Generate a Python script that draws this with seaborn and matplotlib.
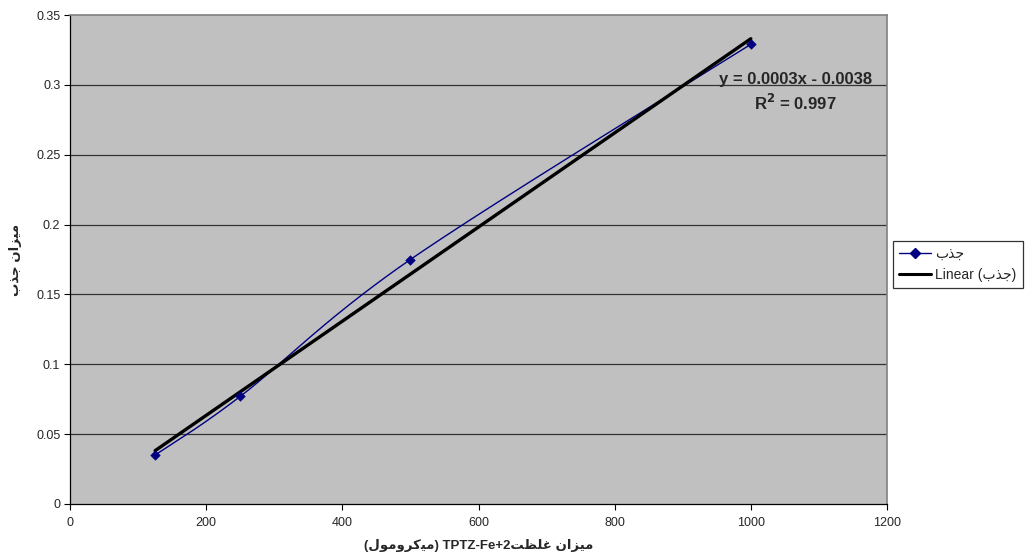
import numpy as np
import pandas as pd
import matplotlib
matplotlib.use("Agg")
import matplotlib.pyplot as plt
from matplotlib.lines import Line2D
import seaborn as sns

# ---- data ----
conc = [125, 250, 500, 1000]
absorb = [0.035, 0.077, 0.175, 0.329]
x_ticks = [0, 200, 400, 600, 800, 1000, 1200]
y_ticks = [0, 0.05, 0.1, 0.15, 0.2, 0.25, 0.3, 0.35]
y_tick_labels = ["0", "0.05", "0.1", "0.15", "0.2", "0.25", "0.3", "0.35"]

# Persian words in visual (presentation-form) order
w_jazb = "\uFE8F\uFEAC\uFE9F"                       # جذب
w_mizan = "\uFEE5\uFE8D\uFEB0\uFEF4\uFEE3"          # میزان
w_ghelzat = "\uFE96\uFEC8\uFEE0\uFECF"              # غلظت
w_micromol = "\uFEDD\uFEEE\uFEE3\uFEED\uFEAE\uFB90\uFEF4\uFEE3"  # میکرومول

xlabel = "(" + w_micromol + ") TPTZ-Fe+2" + w_ghelzat + " " + w_mizan
ylabel = w_jazb + " " + w_mizan
legend_series = w_jazb
legend_trend = "Linear (" + w_jazb + ")"

sns.set_theme(style="white")
FAM = ["Liberation Sans", "DejaVu Sans"]
plt.rcParams["font.family"] = FAM

fig = plt.figure(figsize=(10.29, 5.58), dpi=100)
ax = fig.add_axes([70 / 1029, 1 - 504 / 558, 817 / 1029, 489 / 558])
ax.set_facecolor("#C0C0C0")

# smoothed curve (Catmull-Rom Bezier like Excel)
px = np.array(conc, float)
py = np.array(absorb, float)
sx, sy = [], []
n = len(px)
for i in range(n - 1):
    p0 = (px[max(i - 1, 0)], py[max(i - 1, 0)])
    p1 = (px[i], py[i])
    p2 = (px[i + 1], py[i + 1])
    p3 = (px[min(i + 2, n - 1)], py[min(i + 2, n - 1)])
    c1 = (p1[0] + (p2[0] - p0[0]) / 6, p1[1] + (p2[1] - p0[1]) / 6)
    c2 = (p2[0] - (p3[0] - p1[0]) / 6, p2[1] - (p3[1] - p1[1]) / 6)
    t = np.linspace(0, 1, 60)
    bx = (1 - t) ** 3 * p1[0] + 3 * (1 - t) ** 2 * t * c1[0] + 3 * (1 - t) * t ** 2 * c2[0] + t ** 3 * p2[0]
    by = (1 - t) ** 3 * p1[1] + 3 * (1 - t) ** 2 * t * c1[1] + 3 * (1 - t) * t ** 2 * c2[1] + t ** 3 * p2[1]
    sx.extend(bx)
    sy.extend(by)
curve = pd.DataFrame({"x": sx, "y": sy, "order": np.arange(len(sx))})

slope, intercept = np.polyfit(px, py, 1)
trend = pd.DataFrame({"x": [px.min(), px.max()]})
trend["y"] = slope * trend["x"] + intercept

# gridlines
for yt in y_ticks[1:-1]:
    ax.axhline(yt, color="#333333", lw=0.9, zorder=1)

sns.lineplot(data=curve, x="x", y="y", sort=False, estimator=None, ax=ax,
             color="#000080", lw=1.0, zorder=3)
sns.lineplot(data=trend, x="x", y="y", ax=ax, color="black", lw=2.4, zorder=4)
sns.scatterplot(x=conc, y=absorb, ax=ax, marker="D", s=24, color="#000080",
                edgecolor="#000080", zorder=5)

ax.set_xlim(0, 1200)
ax.set_ylim(0, 0.35)
ax.set_xticks(x_ticks)
ax.set_xticklabels([str(v) for v in x_ticks], fontsize=9)
ax.set_yticks(y_ticks)
ax.set_yticklabels(y_tick_labels, fontsize=9)
ax.tick_params(axis="x", direction="out", length=4, width=0.8, color="black",
               pad=5, bottom=True)
ax.tick_params(axis="y", direction="out", length=4, width=0.8, color="black",
               pad=3, left=True)
for s in ["left", "bottom"]:
    ax.spines[s].set_color("black")
    ax.spines[s].set_linewidth(0.9)
for s in ["top", "right"]:
    ax.spines[s].set_color("#808080")
    ax.spines[s].set_linewidth(1.2)

ax.set_xlabel(xlabel, fontsize=9.5, fontweight="bold", family=FAM)
ax.set_ylabel(ylabel, fontsize=9.5, fontweight="bold", family=FAM)
ax.xaxis.set_label_coords(0.5, -(546 - 504) / 489)
ax.yaxis.set_label_coords(-(70 - 16) / 817, 0.5)
ax.xaxis.label.set_va("center")
ax.yaxis.label.set_va("center")

eq = "y = 0.0003x - 0.0038"
r2 = 1 - np.sum((py - (slope * px + intercept)) ** 2) / np.sum((py - py.mean()) ** 2)
ax.text(1065, 0.3035, eq, fontsize=12, fontweight="bold", ha="center", va="center")
ax.text(1065, 0.287, r"R$^\mathbf{2}$ = %.3f" % r2, fontsize=12, fontweight="bold",
        ha="center", va="center")

handles = [Line2D([0], [0], color="#000080", lw=1.0, marker="D", markersize=5),
           Line2D([0], [0], color="black", lw=2.2)]
leg = fig.legend(handles, [legend_series, legend_trend], loc="upper left",
                 bbox_to_anchor=(893 / 1029, 1 - 241 / 558), frameon=True,
                 fancybox=False, edgecolor="black", fontsize=10, handlelength=2.3,
                 handletextpad=0.3, borderpad=0.45, labelspacing=0.5,
                 borderaxespad=0)
leg.get_frame().set_linewidth(0.9)

fig.savefig("out.png", dpi=100)
